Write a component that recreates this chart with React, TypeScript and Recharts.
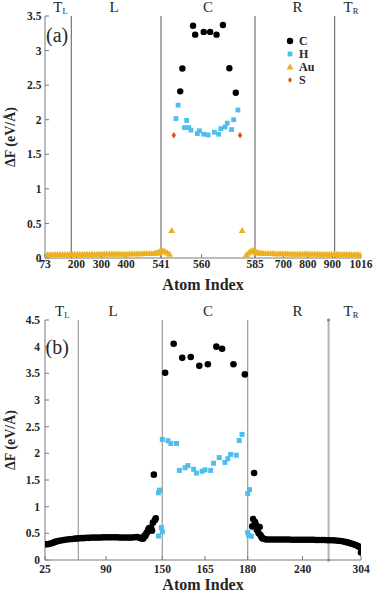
import React from 'react';
import {
  ScatterChart,
  Scatter,
  XAxis,
  YAxis,
  ReferenceLine,
  ReferenceDot,
  Legend,
  Label,
} from 'recharts';

const FONT = '"Liberation Serif", "DejaVu Serif", serif';
const AXIS_COLOR = '#7a7a7a';
const TEXT_COLOR = '#262626';
const C_COLOR = '#000000';
const H_COLOR = '#4DBEEE';
const AU_COLOR = '#EDB120';
const S_COLOR = '#D95319';

// ---------------- Panel (a) data: [atom index, ΔF (eV/Å)] ----------------
const aCarbon: [number, number][] = [
  [550, 2.41], [551, 2.74], [556, 3.36], [557, 3.23], [561, 3.27],
  [564, 3.27], [567, 3.23], [570, 3.37], [573, 2.745], [576, 2.39],
];
const aHydrogen: [number, number][] = [
  [548, 2.016], [549, 2.21], [552, 1.886], [553, 1.99], [554, 1.886],
  [555, 1.85], [558, 1.8], [559, 1.84], [561, 1.79], [563, 1.78],
  [566, 1.82], [568, 1.79], [569, 1.87], [571, 1.895], [572, 1.95],
  [574, 1.857], [575, 2.0], [577, 2.14],
];
const aGoldAnchor: [number, number][] = [[546, 0.4], [579, 0.4]];
const aSulfur: [number, number][] = [[547, 1.776], [578, 1.776]];
const aGoldLeft: [number, number][] = [
  [73, 0.05], [83, 0.05], [93, 0.051], [103, 0.051], [113, 0.052], [123, 0.052],
  [133, 0.052], [143, 0.053], [153, 0.053], [163, 0.053], [173, 0.054], [183, 0.054],
  [193, 0.054], [203, 0.055], [213, 0.055], [223, 0.055], [233, 0.056], [243, 0.056],
  [253, 0.056], [263, 0.057], [273, 0.057], [283, 0.057], [293, 0.058], [303, 0.058],
  [313, 0.058], [323, 0.059], [333, 0.059], [343, 0.059], [353, 0.06], [363, 0.06],
  [373, 0.06], [383, 0.061], [393, 0.061], [403, 0.061], [413, 0.062], [423, 0.062],
  [433, 0.063], [443, 0.063], [453, 0.064], [463, 0.064], [473, 0.065], [483, 0.066],
  [493, 0.067], [503, 0.068], [513, 0.07], [521, 0.072], [527, 0.075], [531, 0.078],
  [534, 0.082], [536, 0.088], [538, 0.095], [539, 0.1], [540, 0.108], [541, 0.112],
  [542, 0.105], [543, 0.095], [544, 0.075], [545, 0.055],
];
const aGoldRight: [number, number][] = [
  [581, 0.05], [582, 0.075], [583, 0.1], [584, 0.112], [585, 0.105], [586, 0.095],
  [588, 0.088], [591, 0.082], [595, 0.078], [600, 0.075], [608, 0.072], [617, 0.07],
  [627, 0.068], [637, 0.067], [647, 0.066], [657, 0.065], [667, 0.064], [677, 0.064],
  [687, 0.063], [697, 0.063], [707, 0.062], [717, 0.062], [727, 0.061], [737, 0.061],
  [747, 0.061], [757, 0.06], [767, 0.06], [777, 0.06], [787, 0.059], [797, 0.059],
  [807, 0.059], [817, 0.058], [827, 0.058], [837, 0.058], [847, 0.057], [857, 0.057],
  [867, 0.057], [877, 0.056], [887, 0.056], [897, 0.056], [907, 0.055], [917, 0.055],
  [927, 0.055], [937, 0.054], [947, 0.054], [957, 0.054], [967, 0.053], [977, 0.053],
  [987, 0.053], [997, 0.052], [1006, 0.052], [1016, 0.05],
];
const aXTicks = [73, 200, 300, 400, 541, 560, 585, 700, 800, 900, 1016];
const aYTicks = [0, 0.5, 1, 1.5, 2, 2.5, 3, 3.5];
const aBoundaries = [179, 541, 585, 909];

// ---------------- Panel (b) data ----------------
const bCarbonCenter: [number, number][] = [
  [151, 3.51], [154, 4.055], [157, 3.79], [160, 3.805], [163, 3.64],
  [166, 3.67], [169, 4.0], [171, 3.96], [175, 3.67], [179, 3.48],
];
const bCarbonLeft: [number, number][] = [
  [25, 0.3], [27, 0.295], [29, 0.3], [31, 0.31], [33, 0.32], [35, 0.335],
  [37, 0.345], [39, 0.355], [42, 0.365], [45, 0.375], [48, 0.385], [51, 0.39],
  [54, 0.395], [57, 0.4], [60, 0.405], [63, 0.41], [66, 0.41], [69, 0.415],
  [72, 0.415], [75, 0.42], [78, 0.42], [81, 0.42], [84, 0.42], [87, 0.425],
  [90, 0.425], [93, 0.425], [96, 0.425], [99, 0.425], [102, 0.425], [105, 0.42],
  [108, 0.42], [111, 0.42], [114, 0.42], [117, 0.42], [120, 0.425], [123, 0.43],
  [125, 0.42], [127, 0.41], [129, 0.4], [130, 0.41], [131, 0.46], [132, 0.45],
  [133, 0.5], [134, 0.52], [135, 0.57], [136, 0.6], [137, 0.58], [138, 0.61],
  [139, 0.55], [140, 0.7], [141, 1.6], [142, 0.745], [143, 0.78],
];
const bCarbonRight: [number, number][] = [
  [185, 0.63], [186, 0.77], [187, 1.63], [188, 0.71], [189, 0.66], [190, 0.56],
  [191, 0.6], [192, 0.5], [193, 0.62], [194, 0.47], [195, 0.43], [196, 0.41],
  [197, 0.4], [199, 0.39], [201, 0.385], [204, 0.385], [207, 0.385], [210, 0.385],
  [213, 0.385], [216, 0.385], [219, 0.385], [222, 0.385], [225, 0.385], [228, 0.38],
  [231, 0.38], [234, 0.38], [237, 0.38], [240, 0.38], [243, 0.38], [246, 0.38],
  [249, 0.38], [252, 0.38], [255, 0.375], [258, 0.375], [261, 0.375], [264, 0.375],
  [267, 0.37], [270, 0.37], [273, 0.37], [276, 0.365], [279, 0.36], [282, 0.355],
  [285, 0.345], [288, 0.335], [290, 0.325], [292, 0.315], [294, 0.305], [296, 0.295],
  [298, 0.28], [300, 0.265], [302, 0.25], [303, 0.24], [304, 0.14],
];
const bHydrogen: [number, number][] = [
  [146, 0.45], [146, 1.26], [147, 1.31], [149, 0.61], [150, 0.53],
  [150, 2.26], [152, 2.235], [153, 2.185], [155, 2.185], [156, 1.68],
  [158, 1.73], [159, 1.77], [161, 1.7], [162, 1.63], [164, 1.665],
  [165, 1.69], [167, 1.68], [168, 1.815], [170, 1.92], [172, 1.83],
  [173, 1.9], [174, 1.98], [176, 1.965], [177, 2.24], [178, 2.355],
  [180, 0.515], [180, 1.245], [181, 0.465], [182, 1.32], [184, 0.445],
];
const bXTicks = [25, 90, 150, 165, 180, 240, 304];
const bYTicks = [0, 0.5, 1, 1.5, 2, 2.5, 3, 3.5, 4, 4.5];
const bBoundaries = [60.5, 150, 180];
const bRightTerminal = 268.5;

const legendItems = [
  { name: 'C', color: C_COLOR, shape: 'circle' },
  { name: 'H', color: H_COLOR, shape: 'square' },
  { name: 'Au', color: AU_COLOR, shape: 'triangle' },
  { name: 'S', color: S_COLOR, shape: 'diamond' },
];

// ---------------- piecewise (broken) x scale ----------------
function makeWarp(knots: number[], spans: number[]) {
  return (v: number) => {
    for (let i = 0; i < knots.length - 1; i++) {
      if (v <= knots[i + 1] || i === knots.length - 2) {
        const t = (v - knots[i]) / (knots[i + 1] - knots[i]);
        return spans[i] + t * (spans[i + 1] - spans[i]);
      }
    }
    return 0;
  };
}
const WIDTH_UNITS = 316;
const warpA = makeWarp([73, 541, 585, 1016], [0, 116, 210, WIDTH_UNITS]);
const warpB = makeWarp([25, 150, 180, 304], [0, 117.3, 202.7, WIDTH_UNITS]);

const toPts = (arr: [number, number][], warp: (v: number) => number) =>
  arr.map(([i, v]) => ({ x: warp(i), y: v, atom: i }));

// ---------------- marker shapes ----------------
const circleShape = (r: number, fill: string) => (p: any) =>
  <circle cx={p.cx} cy={p.cy} r={r} fill={fill} />;
const squareShape = (s: number, fill: string) => (p: any) =>
  <rect x={p.cx - s / 2} y={p.cy - s / 2} width={s} height={s} fill={fill} />;
const triangleShape = (w: number, fill: string) => (p: any) =>
  <polygon
    points={`${p.cx - w / 2},${p.cy + 2.6} ${p.cx + w / 2},${p.cy + 2.6} ${p.cx},${p.cy - 3.4}`}
    fill={fill}
  />;
const diamondShape = (w: number, h: number, fill: string) => (p: any) =>
  <polygon
    points={`${p.cx},${p.cy - h / 2} ${p.cx + w / 2},${p.cy} ${p.cx},${p.cy + h / 2} ${p.cx - w / 2},${p.cy}`}
    fill={fill}
  />;

const tickStyle = { fill: TEXT_COLOR, fontSize: 11.5, fontFamily: FONT, fontWeight: 'bold' as const };
const titleStyle = { fill: TEXT_COLOR, fontFamily: FONT, fontWeight: 'bold' as const };

function LegendA() {
  return (
    <svg width={60} height={56} style={{ display: 'block', overflow: 'visible' }}>
      {legendItems.map((it, i) => {
        const cy = 7 + i * 13;
        let icon: React.ReactNode = null;
        if (it.shape === 'circle') icon = <circle cx={7} cy={cy} r={3.2} fill={it.color} />;
        if (it.shape === 'square') icon = <rect x={4.6} y={cy - 2.4} width={4.8} height={4.8} fill={it.color} />;
        if (it.shape === 'triangle')
          icon = <polygon points={`${3.5},${cy + 2.6} ${10.5},${cy + 2.6} ${7},${cy - 3.4}`} fill={it.color} />;
        if (it.shape === 'diamond')
          icon = <polygon points={`7,${cy - 3} 9,${cy} 7,${cy + 3} 5,${cy}`} fill={it.color} />;
        return (
          <g key={it.name}>
            {icon}
            <text x={16} y={cy + 4.2} fontSize={12} fontFamily={FONT} fontWeight="bold" fill={TEXT_COLOR}>
              {it.name}
            </text>
          </g>
        );
      })}
    </svg>
  );
}

function PanelA() {
  const xt = aXTicks.map(warpA);
  return (
    <ScatterChart width={374} height={300} margin={{ top: 16, right: 13, bottom: 10, left: 8 }}>
      <XAxis
        xAxisId="bottom"
        dataKey="x"
        type="number"
        domain={[0, WIDTH_UNITS]}
        allowDataOverflow
        ticks={xt}
        interval={0}
        tickFormatter={(_v: any, i: number) => String(aXTicks[i])}
        height={32}
        tickSize={-4}
        tickMargin={6}
        stroke={AXIS_COLOR}
        tick={tickStyle}
      >
        <Label value="Atom Index" position="insideBottom" offset={0} style={{ ...titleStyle, fontSize: 16 }} />
      </XAxis>
      <XAxis
        xAxisId="top"
        orientation="top"
        type="number"
        domain={[0, WIDTH_UNITS]}
        allowDataOverflow
        ticks={xt}
        interval={0}
        height={0}
        tick={false}
        tickSize={-4}
        stroke={AXIS_COLOR}
      />
      <YAxis
        yAxisId="left"
        dataKey="y"
        type="number"
        domain={[0, 3.5]}
        allowDataOverflow
        ticks={aYTicks}
        interval={0}
        width={37}
        tickSize={-4}
        tickMargin={7.6}
        stroke={AXIS_COLOR}
        tick={tickStyle}
      >
        <Label
          value="ΔF (eV/Å)"
          angle={-90}
          position="insideLeft"
          offset={2}
          style={{ ...titleStyle, fontSize: 14, textAnchor: 'middle' }}
        />
      </YAxis>
      <YAxis
        yAxisId="right"
        orientation="right"
        type="number"
        domain={[0, 3.5]}
        allowDataOverflow
        ticks={aYTicks}
        interval={0}
        width={0}
        tick={false}
        tickSize={-4}
        stroke={AXIS_COLOR}
      />
      {aBoundaries.map((b) => (
        <ReferenceLine key={b} xAxisId="bottom" yAxisId="left" x={warpA(b)} stroke="#5a5a5a" strokeWidth={1} />
      ))}
      <Scatter name="Au" data={toPts(aGoldLeft, warpA)} xAxisId="bottom" yAxisId="left"
        shape={triangleShape(7, AU_COLOR)} isAnimationActive={false} />
      <Scatter name="Au" data={toPts(aGoldRight, warpA)} xAxisId="bottom" yAxisId="left"
        shape={triangleShape(7, AU_COLOR)} isAnimationActive={false} />
      <Scatter name="Au" data={toPts(aGoldAnchor, warpA)} xAxisId="bottom" yAxisId="left"
        shape={triangleShape(7, AU_COLOR)} isAnimationActive={false} />
      <Scatter name="S" data={toPts(aSulfur, warpA)} xAxisId="bottom" yAxisId="left"
        shape={diamondShape(4.4, 6.4, S_COLOR)} isAnimationActive={false} />
      <Scatter name="H" data={toPts(aHydrogen, warpA)} xAxisId="bottom" yAxisId="left"
        shape={squareShape(4.8, H_COLOR)} isAnimationActive={false} />
      <Scatter name="C" data={toPts(aCarbon, warpA)} xAxisId="bottom" yAxisId="left"
        shape={circleShape(3.2, C_COLOR)} isAnimationActive={false} />
      <Legend
        layout="horizontal"
        align="center"
        verticalAlign="middle"
        content={() => <LegendA />}
        wrapperStyle={{ left: 283, top: 34, width: 60, height: 56 }}
      />
    </ScatterChart>
  );
}

function PanelB() {
  const xt = bXTicks.map(warpB);
  return (
    <ScatterChart width={374} height={291} margin={{ top: 20, right: 13, bottom: 1.5, left: 8 }}>
      <XAxis
        xAxisId="bottom"
        dataKey="x"
        type="number"
        domain={[0, WIDTH_UNITS]}
        allowDataOverflow
        ticks={xt}
        interval={0}
        tickFormatter={(_v: any, i: number) => String(bXTicks[i])}
        height={29.5}
        tickSize={-4}
        tickMargin={8.9}
        stroke={AXIS_COLOR}
        tick={tickStyle}
      >
        <Label value="Atom Index" position="insideBottom" offset={0} style={{ ...titleStyle, fontSize: 16 }} />
      </XAxis>
      <XAxis
        xAxisId="top"
        orientation="top"
        type="number"
        domain={[0, WIDTH_UNITS]}
        allowDataOverflow
        ticks={xt}
        interval={0}
        height={0}
        tick={false}
        tickSize={-4}
        stroke={AXIS_COLOR}
      />
      <YAxis
        yAxisId="left"
        dataKey="y"
        type="number"
        domain={[0, 4.5]}
        allowDataOverflow
        ticks={bYTicks}
        interval={0}
        width={37}
        tickSize={-4}
        tickMargin={9}
        stroke={AXIS_COLOR}
        tick={tickStyle}
      >
        <Label
          value="ΔF (eV/Å)"
          angle={-90}
          position="insideLeft"
          offset={2}
          style={{ ...titleStyle, fontSize: 14, textAnchor: 'middle' }}
        />
      </YAxis>
      <YAxis
        yAxisId="right"
        orientation="right"
        type="number"
        domain={[0, 4.5]}
        allowDataOverflow
        ticks={bYTicks}
        interval={0}
        width={0}
        tick={false}
        tickSize={-4}
        stroke={AXIS_COLOR}
      />
      {bBoundaries.map((b) => (
        <ReferenceLine key={b} xAxisId="bottom" yAxisId="left" x={warpB(b)} stroke="#9a9a9a" strokeWidth={1.2} />
      ))}
      <ReferenceLine xAxisId="bottom" yAxisId="left" x={warpB(bRightTerminal)} stroke="#b4b4b4" strokeWidth={2} />
      <ReferenceDot xAxisId="bottom" yAxisId="left" x={warpB(bRightTerminal)} y={4.5} r={1.6}
        fill="#5b8fd0" stroke="none" ifOverflow="visible" />
      <ReferenceDot xAxisId="bottom" yAxisId="left" x={warpB(bRightTerminal)} y={0} r={1.6}
        fill="#5b8fd0" stroke="none" ifOverflow="visible" />
      <Scatter name="C" data={toPts(bCarbonLeft, warpB)} xAxisId="bottom" yAxisId="left"
        shape={circleShape(3.3, C_COLOR)} isAnimationActive={false} />
      <Scatter name="C" data={toPts(bCarbonRight, warpB)} xAxisId="bottom" yAxisId="left"
        shape={circleShape(3.3, C_COLOR)} isAnimationActive={false} />
      <Scatter name="H" data={toPts(bHydrogen, warpB)} xAxisId="bottom" yAxisId="left"
        shape={squareShape(5, H_COLOR)} isAnimationActive={false} />
      <Scatter name="C" data={toPts(bCarbonCenter, warpB)} xAxisId="bottom" yAxisId="left"
        shape={circleShape(3.3, C_COLOR)} isAnimationActive={false} />
    </ScatterChart>
  );
}

function Annotations() {
  const reg = { fontFamily: FONT, fontSize: 15, fill: TEXT_COLOR };
  const sub = { fontSize: 8.5 };
  return (
    <svg width={374} height={591} style={{ position: 'absolute', left: 0, top: 0, pointerEvents: 'none' }}>
      {/* panel (a) */}
      <text x={53.3} y={12} {...reg}>T<tspan dy={1.5} {...sub}>L</tspan></text>
      <text x={114} y={12} textAnchor="middle" {...reg}>L</text>
      <text x={208} y={12} textAnchor="middle" {...reg}>C</text>
      <text x={297.5} y={12} textAnchor="middle" {...reg}>R</text>
      <text x={343.5} y={12} {...reg}>T<tspan dy={1.5} {...sub}>R</tspan></text>
      <text x={46} y={41.5} fontFamily={FONT} fontSize={20} fill={TEXT_COLOR}>(a)</text>
      {/* panel (b) */}
      <text x={55} y={316} {...reg}>T<tspan dy={1.5} {...sub}>L</tspan></text>
      <text x={113} y={316} textAnchor="middle" {...reg}>L</text>
      <text x={208} y={316} textAnchor="middle" {...reg}>C</text>
      <text x={297.5} y={316} textAnchor="middle" {...reg}>R</text>
      <text x={343.5} y={316} {...reg}>T<tspan dy={1.5} {...sub}>R</tspan></text>
      <text x={45.5} y={354} fontFamily={FONT} fontSize={20} fill={TEXT_COLOR}>(b)</text>
    </svg>
  );
}

export default function App() {
  return (
    <div style={{ position: 'absolute', left: 0, top: 0, width: 374, height: 591, background: '#fff', overflow: 'hidden' }}>
      <div style={{ position: 'absolute', left: 0, top: 0 }}>
        <PanelA />
      </div>
      <div style={{ position: 'absolute', left: 0, top: 300 }}>
        <PanelB />
      </div>
      <Annotations />
    </div>
  );
}
